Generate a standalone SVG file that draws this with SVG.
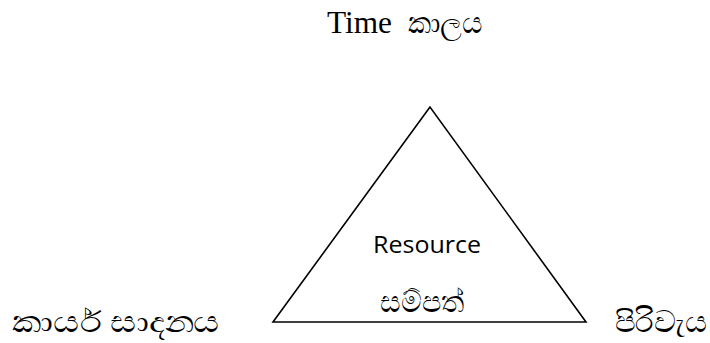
<svg xmlns="http://www.w3.org/2000/svg" width="710" height="343" viewBox="0 0 710 343">
<style>
.serif{font-family:"Liberation Serif",serif;font-size:31px;fill:#000}
.sin{font-family:"Liberation Serif","Noto Sans",serif;font-size:30px;fill:#000}
.sans{font-family:"Open Sans","Liberation Sans",sans-serif;font-size:24px;fill:#000}
.tri{fill:none;stroke:#000;stroke-width:1.6}
</style>
<rect width="710" height="343" fill="#fff"/>
<g id="resource">
<polygon class="tri" points="430,107 273,322 586,322"/>
<text class="sans" x="373" y="253" textLength="108" lengthAdjust="spacingAndGlyphs">Resource</text>
<text class="sin" x="380" y="312" textLength="84" lengthAdjust="spacingAndGlyphs">සම්පත්</text>
</g>
<g id="time">
<text class="serif" x="327" y="33" textLength="65" lengthAdjust="spacingAndGlyphs">Time</text>
<text class="sin" x="408" y="33" textLength="75" lengthAdjust="spacingAndGlyphs">කාලය</text>
</g>
<g id="performance">
<text class="sin" x="12" y="332" textLength="208" lengthAdjust="spacingAndGlyphs">කාර්ය සාදනය</text>
</g>
<g id="cost">
<text class="sin" x="615" y="332" textLength="92" lengthAdjust="spacingAndGlyphs">පිරිවැය</text>
</g>
<g id="connectors"/>
</svg>
